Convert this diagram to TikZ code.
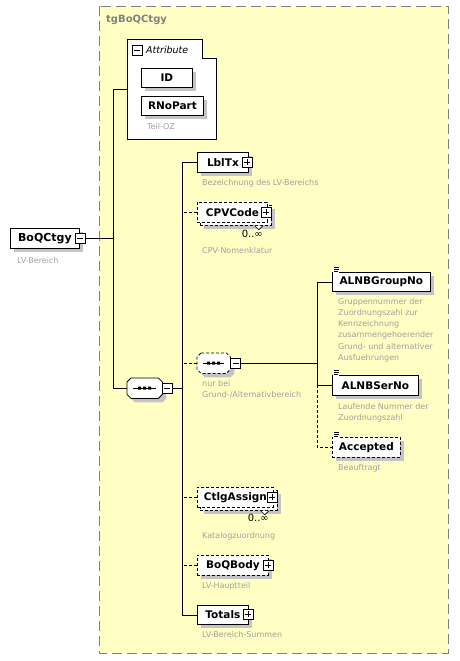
\documentclass[tikz,border=0pt]{standalone}
\usepackage{fontspec}
\setmainfont{DejaVu Sans}
\usetikzlibrary{shadows}
\definecolor{grpfill}{HTML}{FFFFC4}
\definecolor{grpline}{HTML}{808080}
\definecolor{desccol}{HTML}{A0A0A0}
\definecolor{shad}{HTML}{C4C4C4}
\newcommand{\octpath}[1]{([xshift=4pt]#1.north west) -- ([xshift=-4pt]#1.north east) -- ([yshift=-4pt]#1.north east) -- ([yshift=4pt]#1.south east) -- ([xshift=-4pt]#1.south east) -- ([xshift=4pt]#1.south west) -- ([yshift=4pt]#1.south west) -- ([yshift=-4pt]#1.north west) -- cycle}
\newcommand{\seqicon}[1]{%
  \draw[line width=0.8pt] ([xshift=6pt]#1.west) -- ([xshift=-6pt]#1.east);
  \fill ([xshift=-6.5pt,yshift=-1.5pt]#1.center) rectangle ++(3pt,3pt)
        ([xshift=-1.5pt,yshift=-1.5pt]#1.center) rectangle ++(3pt,3pt)
        ([xshift=3.5pt,yshift=-1.5pt]#1.center) rectangle ++(3pt,3pt);}
\tikzset{
  shd/.style={drop shadow={shadow xshift=4pt,shadow yshift=-4pt,fill=shad,opacity=1}},
  elbox/.style={draw, fill=white, line width=0.8pt, anchor=north west, inner sep=0pt,
    font=\bfseries\fontsize{10.5}{13}\selectfont},
  opt/.style={dash pattern=on 3pt off 2pt},
  pmbox/.style={draw, fill=white, minimum size=10pt, inner sep=0pt, line width=0.6pt},
  minusbox/.style={pmbox, path picture={\draw[line width=0.7pt]
     ([xshift=2pt]path picture bounding box.west) -- ([xshift=-2pt]path picture bounding box.east);}},
  plusbox/.style={pmbox, path picture={\draw[line width=0.7pt]
     ([xshift=2pt]path picture bounding box.west) -- ([xshift=-2pt]path picture bounding box.east)
     ([yshift=-2pt]path picture bounding box.north) -- ([yshift=2pt]path picture bounding box.south);}},
  frame/.style={anchor=north west, inner sep=0pt},
  octline/.style={draw, fill=white, line width=0.8pt},
  desc/.style={anchor=north west, inner sep=0pt, text=desccol, align=left,
     font=\fontsize{8}{11.2}\selectfont},
  card/.style={anchor=north east, inner sep=0pt, font=\fontsize{10}{12}\selectfont},
  conn/.style={line width=0.8pt},
  icon/.style={line width=0.6pt}
}
\begin{document}
\begin{tikzpicture}[x=1pt,y=-1pt]
\useasboundingbox (0,0) rectangle (459,661);
% group background
\draw[grpline, dash pattern=on 10pt off 5pt, fill=grpfill, line width=0.8pt] (99,6) rectangle (448,653);
\node[anchor=west, inner sep=0pt, text=grpline, font=\bfseries\fontsize{10}{12}\selectfont] (title) at (106,20) {tgBoQCtgy};

% root element
\node[elbox, shd, minimum width=69pt, minimum height=20pt, font=\bfseries\fontsize{11}{13}\selectfont] (boq) at (10,228) {BoQCtgy\hspace{6pt}};
\node[minusbox] (boqm) at (80,238) {};
\node[desc] (boqd) at (17,257) {LV-Bereich};

% attribute container
\node[frame, minimum width=89pt, minimum height=100pt] (attr) at (127,39) {};
\draw[fill=white, line width=0.8pt] (attr.north west) -- ++(75,0) -- ++(0,19) -| (attr.south east) -- (attr.south west) -- cycle;
\node[minusbox] (attrm) at (137,50) {};
\node[anchor=west, inner sep=0pt, font=\itshape\fontsize{9.5}{11}\selectfont] (attrt) at (146,50) {Attribute};
\node[elbox, shd, minimum width=51pt, minimum height=19pt] (id) at (141,68) {ID\hspace{18pt}};
\node[elbox, shd, minimum width=62pt, minimum height=19pt] (rno) at (141,96) {RNoPart};
\node[desc] (rnod) at (147,123) {Teil-OZ};

% main sequence
\node[frame, minimum width=35pt, minimum height=20pt] (seqs) at (131,382) {};
\fill[shad] \octpath{seqs};
\node[frame, minimum width=35pt, minimum height=20pt] (seq) at (127,378) {};
\draw[octline] \octpath{seq};
\seqicon{seq}
\node[minusbox] (seqm) at (167,388) {};

% children
\node[elbox, shd, minimum width=51pt, minimum height=20pt] (lbl) at (197,152) {LblTx\hspace{8pt}};
\node[plusbox] (lblp) at (247,162) {};
\node[desc] (lbld) at (202,179) {Bezeichnung des LV-Bereichs};

\node[elbox, opt, shd, minimum width=71pt, minimum height=20pt] (cpvb) at (200,205) {};
\draw[fill=white, line width=0.6pt] ([xshift=-17pt]cpvb.south east) -- ++(4,4) -- ++(4,-4);
\node[elbox, opt, minimum width=70pt, minimum height=20pt] (cpv) at (197,202) {CPVCode\hspace{9pt}};
\node[plusbox] (cpvp) at (266,212) {};
\node[card] (cpvc) at (263,230) {0..∞};
\node[desc] (cpvd) at (202,247) {CPV-Nomenklatur};

\node[frame, minimum width=33pt, minimum height=20pt] (seq2s) at (201,357) {};
\fill[shad] \octpath{seq2s};
\node[frame, minimum width=33pt, minimum height=20pt] (seq2) at (197,353) {};
\draw[octline, opt] \octpath{seq2};
\seqicon{seq2}
\node[minusbox] (seq2m) at (235.5,363) {};
\node[desc] (seq2d) at (202,380) {nur bei\\Grund-/Alternativbereich};

\node[elbox, opt, shd, minimum width=77pt, minimum height=20pt] (ctlb) at (200,490) {};
\draw[fill=white, line width=0.6pt] ([xshift=-17pt]ctlb.south east) -- ++(4,4) -- ++(4,-4);
\node[elbox, opt, minimum width=76pt, minimum height=20pt] (ctl) at (197,487) {CtlgAssign\hspace{9pt}};
\node[plusbox] (ctlp) at (272,497) {};
\node[card] (ctlc) at (269,514) {0..∞};
\node[desc] (ctld) at (202,532) {Katalogzuordnung};

\node[elbox, opt, shd, minimum width=71pt, minimum height=20pt] (body) at (197,555) {BoQBody\hspace{8pt}};
\node[plusbox] (bodyp) at (268,565) {};
\node[desc] (bodyd) at (202,582) {LV-Hauptteil};

\node[elbox, shd, minimum width=51pt, minimum height=19pt] (tot) at (197,605) {Totals\hspace{8pt}};
\node[plusbox] (totp) at (248,614) {};
\node[desc] (totd) at (202,631) {LV-Bereich-Summen};

% choice children
\node[elbox, shd, minimum width=98pt, minimum height=19pt] (grp) at (332,272) {ALNBGroupNo};
\node[desc] (grpd) at (338,298) {Gruppennummer der\\Zuordnungszahl zur\\Kennzeichnung\\zusammengehoerender\\Grund- und alternativer\\Ausfuehrungen};
\node[elbox, shd, minimum width=86pt, minimum height=20pt] (ser) at (332,375) {ALNBSerNo};
\node[desc] (serd) at (338,403) {Laufende Nummer der\\Zuordnungszahl};
\node[elbox, opt, shd, minimum width=68pt, minimum height=20pt] (acc) at (332,437) {Accepted};
\node[desc] (accd) at (338,464) {Beauftragt};

% element icons
\foreach \n in {grp,ser,acc}{
  \fill[white] ([xshift=1pt,yshift=-1pt]\n.north west) rectangle ++(6,-6);
  \draw[icon] ([xshift=1.5pt,yshift=4.5pt]\n.north west) -- ++(5,0)
              ([xshift=1.5pt,yshift=2.5pt]\n.north west) -- ++(5,0)
              ([xshift=1.5pt,yshift=0.5pt]\n.north west) -- ++(4,0);
}

% connectors
\coordinate (va) at (113,0);
\coordinate (vb) at (182,0);
\coordinate (vc) at (317,0);
\draw[conn] (boqm.east) -- (boqm.east -| va);
\draw[conn] (attr.west) -- (attr.west -| va) |- (seq.west);
\draw[conn] (seqm.east) -- (seqm.east -| vb);
\draw[conn] (lbl.west) -- (lbl.west -| vb) -- (tot.west -| vb) -- (tot.west);
\draw[conn, opt] (cpv.west) -- (cpv.west -| vb);
\draw[conn, opt] (seq2.west) -- (seq2.west -| vb);
\draw[conn, opt] (ctl.west) -- (ctl.west -| vb);
\draw[conn, opt] (body.west) -- (body.west -| vb);
\draw[conn] (seq2m.east) -- (seq2m.east -| vc);
\draw[conn] (grp.west) -- (grp.west -| vc) -- (ser.west -| vc) -- (ser.west);
\draw[conn, opt] (ser.west -| vc) -- (acc.west -| vc) -- (acc.west);
\end{tikzpicture}
\end{document}
